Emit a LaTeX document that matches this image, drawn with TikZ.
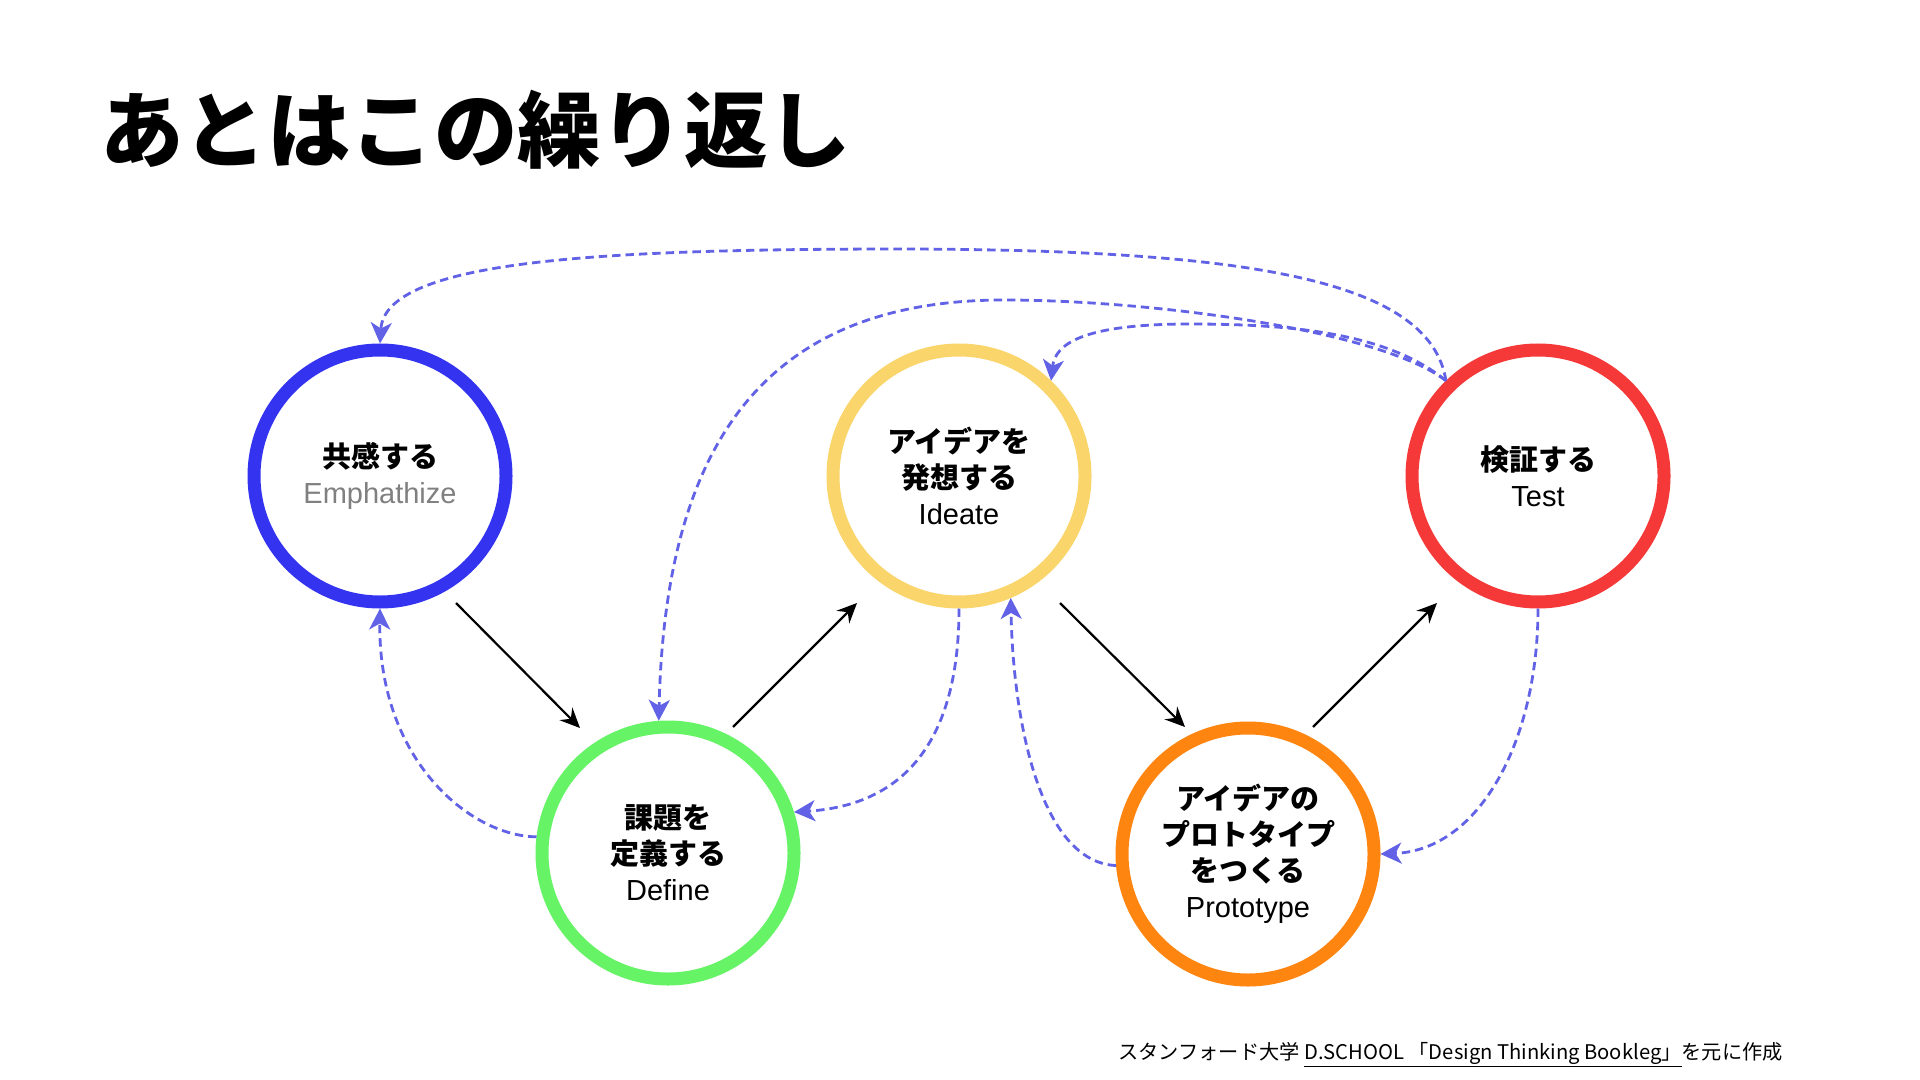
\documentclass[tikz,border=0pt]{standalone}
\usepackage{fontspec}
\setmainfont{Liberation Sans}
\newfontfamily\jp{Noto Sans CJK JP}
\usetikzlibrary{arrows.meta}
\definecolor{cEmp}{RGB}{52,52,240}
\definecolor{cDef}{RGB}{102,243,102}
\definecolor{cIde}{RGB}{249,213,107}
\definecolor{cPro}{RGB}{253,133,16}
\definecolor{cTst}{RGB}{245,56,56}
\definecolor{cDash}{RGB}{98,98,230}
\definecolor{cGray}{RGB}{128,128,128}
\begin{document}
\begin{tikzpicture}[x=0.5pt,y=-0.5pt,
  stage/.style={circle, line width=6.5pt, minimum size=126pt, inner sep=0pt, align=center, font=\fontsize{14.5}{18}\selectfont, fill=white},
  flow/.style={line width=1.1pt, -{Stealth[length=10pt,width=9pt,inset=3.5pt]}},
  back/.style={cDash, line width=1.4pt, dash pattern=on 4.2pt off 2.5pt, -{Stealth[length=10.5pt,width=10.5pt,inset=3pt]}}
]
\fill[white] (0,0) rectangle (1920,1080);
\useasboundingbox (0,0) rectangle (1920,1080);

\node[anchor=base west, inner sep=0pt, font=\jp\bfseries\fontsize{41.7}{42}\selectfont] (title) at (100,162) {あとはこの繰り返し};

\node[stage, draw=cEmp] (emp) at (380,476) {{\jp\bfseries 共感する}\\{\color{cGray}Emphathize}};
\node[stage, draw=cDef] (def) at (668,853) {{\jp\bfseries 課題を}\\{\jp\bfseries 定義する}\\Define};
\node[stage, draw=cIde] (ide) at (959,476) {{\jp\bfseries アイデアを}\\{\jp\bfseries 発想する}\\Ideate};
\node[stage, draw=cPro] (pro) at (1248,854) {{\jp\bfseries アイデアの}\\{\jp\bfseries プロトタイプ}\\{\jp\bfseries をつくる}\\Prototype};
\node[stage, draw=cTst] (tst) at (1538,476) {{\jp\bfseries 検証する}\\Test};

\coordinate (a1s) at (456,603); \coordinate (a1e) at (580,728);
\coordinate (a2s) at (733,727); \coordinate (a2e) at (857,603);
\coordinate (a3s) at (1060,603); \coordinate (a3e) at (1185,727);
\coordinate (a4s) at (1313,727); \coordinate (a4e) at (1437,603);
\draw[flow] (a1s) -- (a1e);
\draw[flow] (a2s) -- (a2e);
\draw[flow] (a3s) -- (a3e);
\draw[flow] (a4s) -- (a4e);

\draw[back] (def.173) .. controls (470,836) and (378,760) .. (emp.south);
\draw[back] (ide.south) .. controls (959,740) and (905,805) .. (def.18);
\draw[back] (pro.185) .. controls (1040,862) and (1013,720) .. (ide.-67);
\draw[back] (tst.south) .. controls (1538,740) and (1480,850) .. (pro.east);

\coordinate (pk1) at (906,249);
\coordinate (pk2) at (1004,300);
\coordinate (pk3) at (1190,324);
\draw[back] (tst.134) .. controls (1430,280) and (1250,250) .. (pk1) .. controls (600,249) and (385,260) .. (emp.north);
\draw[back] (tst.134) .. controls (1380,330) and (1150,300) .. (pk2) .. controls (760,300) and (665,450) .. (def.94);
\draw[back] (tst.134) .. controls (1390,335) and (1300,324) .. (pk3) .. controls (1080,324) and (1055,345) .. (ide.46);

\node[anchor=base west, inner sep=0pt, font=\jp\fontsize{10.1}{12}\selectfont] (foot) at (1118,1059) {スタンフォード大学 \underline{D.SCHOOL 「Design Thinking Bookleg」}を元に作成};
\end{tikzpicture}
\end{document}
